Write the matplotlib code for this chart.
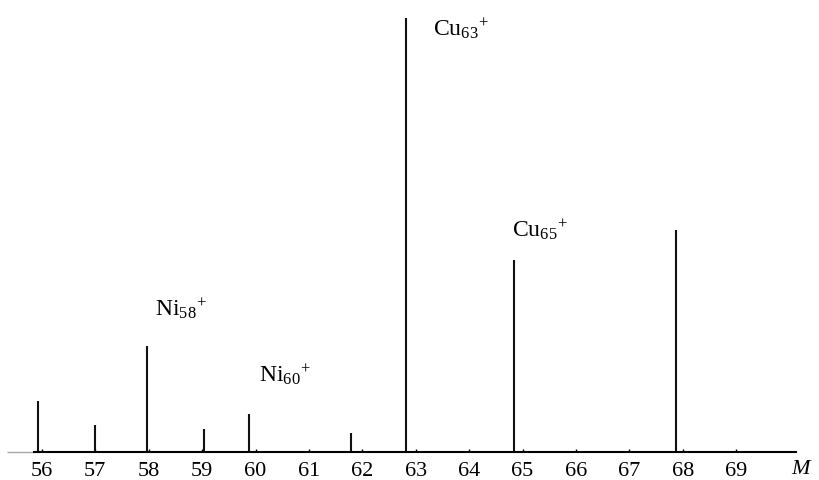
import matplotlib
matplotlib.use("Agg")
import matplotlib.pyplot as plt

# peak positions (mass number M) and heights (arbitrary units)
masses = [55.92, 56.99, 57.97, 59.04, 59.88, 61.78, 62.81, 64.84, 67.87]
heights = [50.8, 26.5, 105.8, 22.5, 38.0, 19.0, 434.0, 192.0, 222.0]

tick_values = list(range(56, 70))
tick_labels = [str(t) for t in tick_values]

ion_labels = [r"$\mathrm{Ni}_{58}{}^{+}$", r"$\mathrm{Ni}_{60}{}^{+}$",
              r"$\mathrm{Cu}_{63}{}^{+}$", r"$\mathrm{Cu}_{65}{}^{+}$"]
ion_x = [58.12, 60.07, 63.33, 64.81]
ion_y = [135.8, 69.8, 415.5, 214.8]

plt.rcParams["font.family"] = ["Liberation Serif", "DejaVu Serif"]
plt.rcParams["mathtext.fontset"] = "custom"
plt.rcParams["mathtext.rm"] = "Liberation Serif"
plt.rcParams["mathtext.it"] = "Liberation Serif:italic"

fig = plt.figure(figsize=(8.19, 4.8), dpi=100)
ax = fig.add_axes([0, 0, 1, 1])

# pixel mapping: 53.4 px per mass unit, M=60 at x=255.5; baseline at y=451.5
ax.set_xlim(60 - 255.5 / 53.4, 60 + (819 - 255.5) / 53.4)
ax.set_ylim(-28.5, 451.5)

ax.vlines(masses, 0, heights, color="#111111", lw=1.5)

# baseline
for s in ["top", "right", "left"]:
    ax.spines[s].set_visible(False)
ax.spines["bottom"].set_position(("data", 0))
ax.spines["bottom"].set_bounds(55.85, 70.13)
ax.spines["bottom"].set_linewidth(1.5)
ax.hlines(0, 55.34, 55.85, color="#aaaaaa", lw=1.0)

ax.set_yticks([])
ax.set_xticks(tick_values)
ax.set_xticklabels(tick_labels)
ax.tick_params(axis="x", direction="in", length=2, width=1.0,
               labelsize=16, pad=7.5)

for lab, x, y in zip(ion_labels, ion_x, ion_y):
    ax.text(x, y, lab, fontsize=17, ha="left", va="baseline")

ax.text(70.03, -22.0, "M", fontsize=16, style="italic", ha="left", va="baseline")

fig.savefig("out.png", dpi=100)
